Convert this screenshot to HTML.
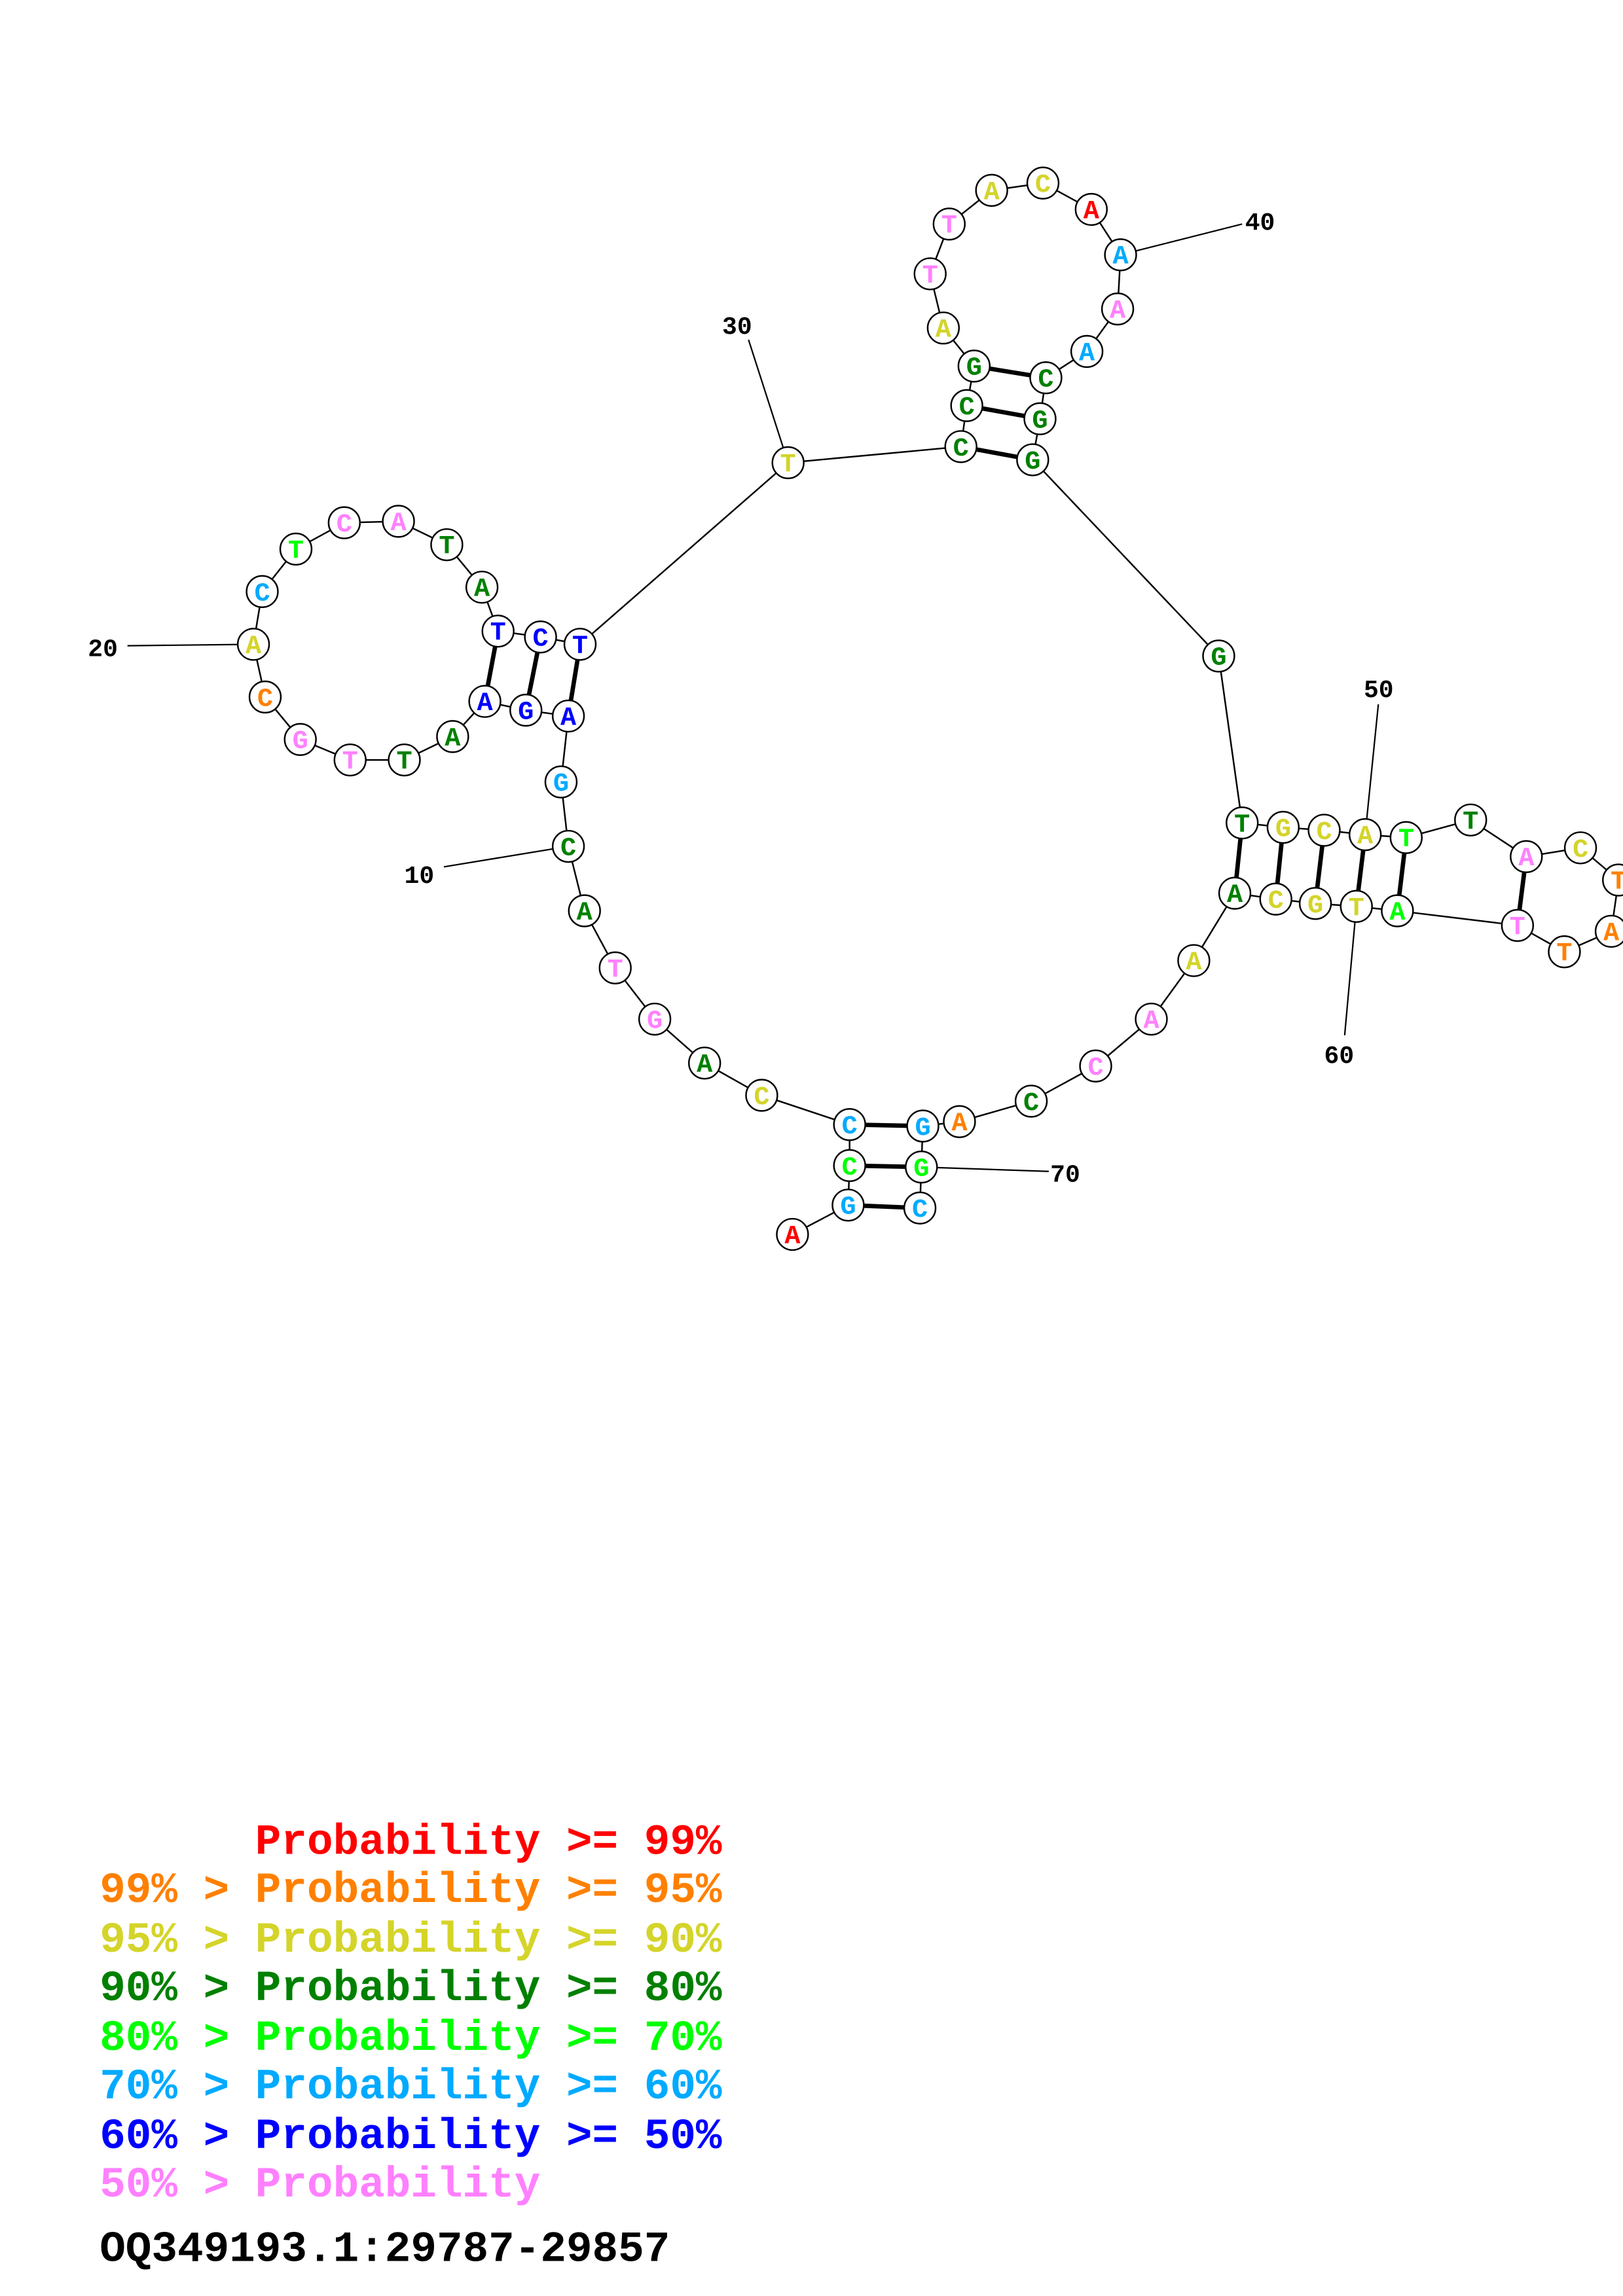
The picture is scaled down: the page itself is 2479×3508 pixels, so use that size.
<!DOCTYPE html>
<html><head><meta charset="utf-8"><style>
html,body{margin:0;padding:0;background:#fff;}
svg{display:block;}
.n circle{fill:#fff;stroke:#000;stroke-width:1.1;}
.n text{font-family:"Liberation Mono",monospace;font-weight:bold;font-size:18px;text-anchor:middle;}
.lab{font-family:"Liberation Mono",monospace;font-weight:bold;font-size:17px;fill:#000;}
.leg{font-family:"Liberation Mono",monospace;font-weight:bold;font-size:29.5px;white-space:pre;}
</style></head><body>
<svg width="2479" height="3508" viewBox="0 0 1108 1568" xmlns="http://www.w3.org/2000/svg">
<defs>
<style>
.R{fill:#ff0000}.O{fill:#ff8000}.Y{fill:#d4d42a}.G{fill:#008000}.L{fill:#00ff00}.B{fill:#00aaff}.D{fill:#0000ff}.P{fill:#ff80ff}
</style>
</defs>
<polyline fill="none" stroke="#000" stroke-width="1.1" points="541,843 579,823 580,796 580,768 520,748 481,726 447,696 420,661 399,622 388,578 383,534 388,489 359,485 331,479 309,503 276,519 239,519 205,505 181,476 173,440 179,404 202,375 235,357 272,356 305,372 329,401 340,431 369,435 396,440 538,316 656,305 660,277 665,250 644,224 635,187 648,153 677,130 712,125 745,143 765,174 763,211 742,240 714,258 710,286 705,314 832,448 848,562 876,565 904,567 932,570 960,572 1004,560 1042,585 1079,579 1105,601 1100,636 1068,650 1036,632 954,622 926,619 898,617 871,614 843,610 815,656 786,696 748,728 704,752 655,766 630,769 629,797 628,825"/>
<g stroke="#000" stroke-width="1">
<line x1="303" y1="592" x2="388" y2="578"/>
<line x1="87" y1="441" x2="173" y2="440"/>
<line x1="511" y1="232" x2="538" y2="316"/>
<line x1="848" y1="153" x2="765" y2="174"/>
<line x1="941" y1="481" x2="932" y2="570"/>
<line x1="918" y1="707" x2="926" y2="619"/>
<line x1="716" y1="800" x2="629" y2="797"/>
</g>
<g stroke="#000" stroke-width="3">
<line x1="579" y1="823" x2="628" y2="825"/>
<line x1="580" y1="796" x2="629" y2="797"/>
<line x1="580" y1="768" x2="630" y2="769"/>
<line x1="388" y1="489" x2="396" y2="440"/>
<line x1="359" y1="485" x2="369" y2="435"/>
<line x1="331" y1="479" x2="340" y2="431"/>
<line x1="656" y1="305" x2="705" y2="314"/>
<line x1="660" y1="277" x2="710" y2="286"/>
<line x1="665" y1="250" x2="714" y2="258"/>
<line x1="848" y1="562" x2="843" y2="610"/>
<line x1="876" y1="565" x2="871" y2="614"/>
<line x1="904" y1="567" x2="898" y2="617"/>
<line x1="932" y1="570" x2="926" y2="619"/>
<line x1="960" y1="572" x2="954" y2="622"/>
<line x1="1042" y1="585" x2="1036" y2="632"/>
</g>
<g class="n">
<g transform="translate(541,843)"><circle r="10.7"/><text y="6" class="R">A</text></g>
<g transform="translate(579,823)"><circle r="10.7"/><text y="6" class="B">G</text></g>
<g transform="translate(580,796)"><circle r="10.7"/><text y="6" class="L">C</text></g>
<g transform="translate(580,768)"><circle r="10.7"/><text y="6" class="B">C</text></g>
<g transform="translate(520,748)"><circle r="10.7"/><text y="6" class="Y">C</text></g>
<g transform="translate(481,726)"><circle r="10.7"/><text y="6" class="G">A</text></g>
<g transform="translate(447,696)"><circle r="10.7"/><text y="6" class="P">G</text></g>
<g transform="translate(420,661)"><circle r="10.7"/><text y="6" class="P">T</text></g>
<g transform="translate(399,622)"><circle r="10.7"/><text y="6" class="G">A</text></g>
<g transform="translate(388,578)"><circle r="10.7"/><text y="6" class="G">C</text></g>
<g transform="translate(383,534)"><circle r="10.7"/><text y="6" class="B">G</text></g>
<g transform="translate(388,489)"><circle r="10.7"/><text y="6" class="D">A</text></g>
<g transform="translate(359,485)"><circle r="10.7"/><text y="6" class="D">G</text></g>
<g transform="translate(331,479)"><circle r="10.7"/><text y="6" class="D">A</text></g>
<g transform="translate(309,503)"><circle r="10.7"/><text y="6" class="G">A</text></g>
<g transform="translate(276,519)"><circle r="10.7"/><text y="6" class="G">T</text></g>
<g transform="translate(239,519)"><circle r="10.7"/><text y="6" class="P">T</text></g>
<g transform="translate(205,505)"><circle r="10.7"/><text y="6" class="P">G</text></g>
<g transform="translate(181,476)"><circle r="10.7"/><text y="6" class="O">C</text></g>
<g transform="translate(173,440)"><circle r="10.7"/><text y="6" class="Y">A</text></g>
<g transform="translate(179,404)"><circle r="10.7"/><text y="6" class="B">C</text></g>
<g transform="translate(202,375)"><circle r="10.7"/><text y="6" class="L">T</text></g>
<g transform="translate(235,357)"><circle r="10.7"/><text y="6" class="P">C</text></g>
<g transform="translate(272,356)"><circle r="10.7"/><text y="6" class="P">A</text></g>
<g transform="translate(305,372)"><circle r="10.7"/><text y="6" class="G">T</text></g>
<g transform="translate(329,401)"><circle r="10.7"/><text y="6" class="G">A</text></g>
<g transform="translate(340,431)"><circle r="10.7"/><text y="6" class="D">T</text></g>
<g transform="translate(369,435)"><circle r="10.7"/><text y="6" class="D">C</text></g>
<g transform="translate(396,440)"><circle r="10.7"/><text y="6" class="D">T</text></g>
<g transform="translate(538,316)"><circle r="10.7"/><text y="6" class="Y">T</text></g>
<g transform="translate(656,305)"><circle r="10.7"/><text y="6" class="G">C</text></g>
<g transform="translate(660,277)"><circle r="10.7"/><text y="6" class="G">C</text></g>
<g transform="translate(665,250)"><circle r="10.7"/><text y="6" class="G">G</text></g>
<g transform="translate(644,224)"><circle r="10.7"/><text y="6" class="Y">A</text></g>
<g transform="translate(635,187)"><circle r="10.7"/><text y="6" class="P">T</text></g>
<g transform="translate(648,153)"><circle r="10.7"/><text y="6" class="P">T</text></g>
<g transform="translate(677,130)"><circle r="10.7"/><text y="6" class="Y">A</text></g>
<g transform="translate(712,125)"><circle r="10.7"/><text y="6" class="Y">C</text></g>
<g transform="translate(745,143)"><circle r="10.7"/><text y="6" class="R">A</text></g>
<g transform="translate(765,174)"><circle r="10.7"/><text y="6" class="B">A</text></g>
<g transform="translate(763,211)"><circle r="10.7"/><text y="6" class="P">A</text></g>
<g transform="translate(742,240)"><circle r="10.7"/><text y="6" class="B">A</text></g>
<g transform="translate(714,258)"><circle r="10.7"/><text y="6" class="G">C</text></g>
<g transform="translate(710,286)"><circle r="10.7"/><text y="6" class="G">G</text></g>
<g transform="translate(705,314)"><circle r="10.7"/><text y="6" class="G">G</text></g>
<g transform="translate(832,448)"><circle r="10.7"/><text y="6" class="G">G</text></g>
<g transform="translate(848,562)"><circle r="10.7"/><text y="6" class="G">T</text></g>
<g transform="translate(876,565)"><circle r="10.7"/><text y="6" class="Y">G</text></g>
<g transform="translate(904,567)"><circle r="10.7"/><text y="6" class="Y">C</text></g>
<g transform="translate(932,570)"><circle r="10.7"/><text y="6" class="Y">A</text></g>
<g transform="translate(960,572)"><circle r="10.7"/><text y="6" class="L">T</text></g>
<g transform="translate(1004,560)"><circle r="10.7"/><text y="6" class="G">T</text></g>
<g transform="translate(1042,585)"><circle r="10.7"/><text y="6" class="P">A</text></g>
<g transform="translate(1079,579)"><circle r="10.7"/><text y="6" class="Y">C</text></g>
<g transform="translate(1105,601)"><circle r="10.7"/><text y="6" class="O">T</text></g>
<g transform="translate(1100,636)"><circle r="10.7"/><text y="6" class="O">A</text></g>
<g transform="translate(1068,650)"><circle r="10.7"/><text y="6" class="O">T</text></g>
<g transform="translate(1036,632)"><circle r="10.7"/><text y="6" class="P">T</text></g>
<g transform="translate(954,622)"><circle r="10.7"/><text y="6" class="L">A</text></g>
<g transform="translate(926,619)"><circle r="10.7"/><text y="6" class="Y">T</text></g>
<g transform="translate(898,617)"><circle r="10.7"/><text y="6" class="Y">G</text></g>
<g transform="translate(871,614)"><circle r="10.7"/><text y="6" class="Y">C</text></g>
<g transform="translate(843,610)"><circle r="10.7"/><text y="6" class="G">A</text></g>
<g transform="translate(815,656)"><circle r="10.7"/><text y="6" class="Y">A</text></g>
<g transform="translate(786,696)"><circle r="10.7"/><text y="6" class="P">A</text></g>
<g transform="translate(748,728)"><circle r="10.7"/><text y="6" class="P">C</text></g>
<g transform="translate(704,752)"><circle r="10.7"/><text y="6" class="G">C</text></g>
<g transform="translate(655,766)"><circle r="10.7"/><text y="6" class="O">A</text></g>
<g transform="translate(630,769)"><circle r="10.7"/><text y="6" class="B">G</text></g>
<g transform="translate(629,797)"><circle r="10.7"/><text y="6" class="L">G</text></g>
<g transform="translate(628,825)"><circle r="10.7"/><text y="6" class="B">C</text></g>
</g>
<text class="lab" x="276" y="603">10</text>
<text class="lab" x="60" y="448">20</text>
<text class="lab" x="493" y="228">30</text>
<text class="lab" x="850" y="157">40</text>
<text class="lab" x="931" y="476">50</text>
<text class="lab" x="904" y="726">60</text>
<text class="lab" x="717" y="807">70</text>
<text class="leg R" x="68" y="1266">      Probability &gt;= 99%</text>
<text class="leg O" x="68" y="1299">99% &gt; Probability &gt;= 95%</text>
<text class="leg Y" x="68" y="1333">95% &gt; Probability &gt;= 90%</text>
<text class="leg G" x="68" y="1366">90% &gt; Probability &gt;= 80%</text>
<text class="leg L" x="68" y="1400">80% &gt; Probability &gt;= 70%</text>
<text class="leg B" x="68" y="1433">70% &gt; Probability &gt;= 60%</text>
<text class="leg D" x="68" y="1467">60% &gt; Probability &gt;= 50%</text>
<text class="leg P" x="68" y="1500">50% &gt; Probability</text>
<text class="leg" x="68" y="1544" fill="#000">OQ349193.1:29787-29857</text>
</svg>
</body></html>
